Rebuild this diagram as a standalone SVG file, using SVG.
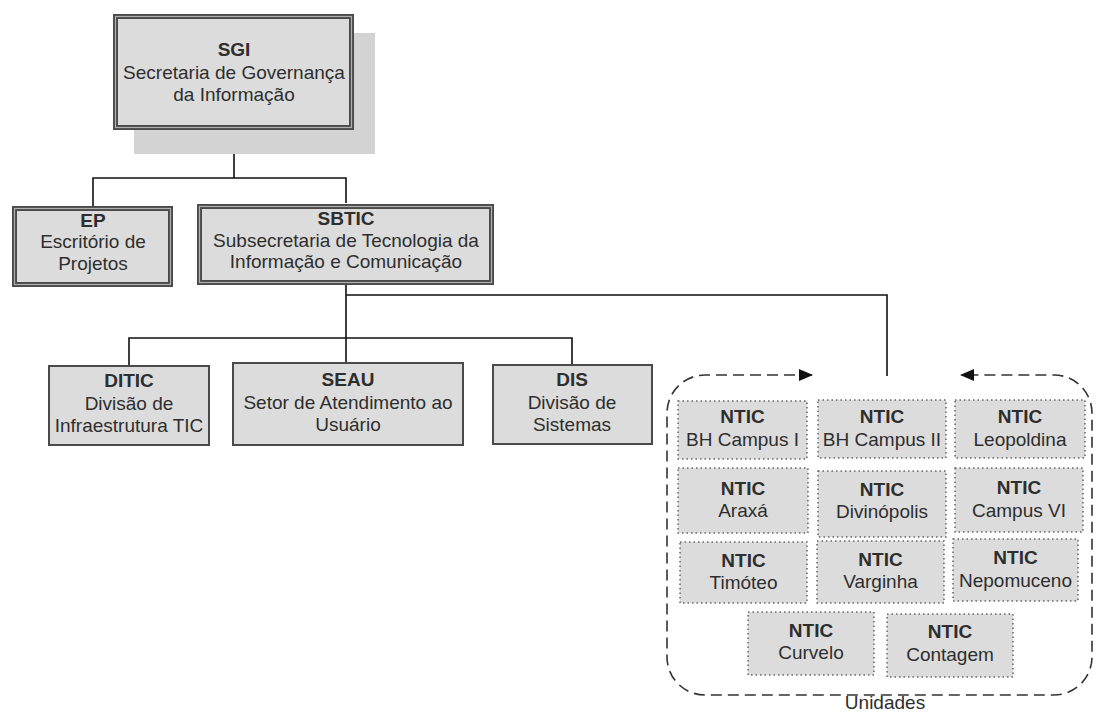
<svg xmlns="http://www.w3.org/2000/svg" width="1097" height="713" viewBox="0 0 1097 713">
<defs>
<style>
.t{font-family:"Liberation Sans",Arial,sans-serif;font-size:19px;fill:#2e2e2e;text-anchor:middle}
.b{font-weight:bold}
.dbl{fill:#dcdcdc;stroke:#4a4a4a;stroke-width:5}
.dbl2{fill:none;stroke:#b0b0b0;stroke-width:1.2}
.sgl{fill:#dcdcdc;stroke:#4a4a4a;stroke-width:2}
.dot{fill:#dcdcdc;stroke:#666;stroke-width:1.5;stroke-dasharray:1.5 3}
.con{fill:none;stroke:#111;stroke-width:1.6}
</style>
<marker id="ah" viewBox="0 0 14 12" refX="13" refY="6" markerWidth="14" markerHeight="12" markerUnits="userSpaceOnUse" orient="auto-start-reverse">
<path d="M0,0 L14,6 L0,12 Z" fill="#111"/>
</marker>
</defs>
<rect width="1097" height="713" fill="#fff"/>

<g id="connectors">
<path class="con" d="M234,130 V178 M93,206 V178 H346 V203"/>
<path class="con" d="M346,285 V362 M346,295 H887 V376"/>
<path class="con" d="M129,365 V338 H572 V364"/>
<path d="M812,375 H705 A38,38 0 0 0 667,413 V657 A38,38 0 0 0 705,695 H1054 A38,38 0 0 0 1092,657 V413 A38,38 0 0 0 1054,375 H961" fill="none" stroke="#333" stroke-width="1.6" stroke-dasharray="11 6" marker-start="url(#ah)" marker-end="url(#ah)"/>
</g>

<g id="sgi">
<rect x="134" y="33" width="241" height="121" fill="#d3d3d3"/>
<rect class="dbl" x="115.5" y="16.5" width="236" height="111"/>
<rect class="dbl2" x="115.5" y="16.5" width="236" height="111"/>
<text class="t b" x="234" y="56">SGI</text>
<text class="t" x="234" y="78.5">Secretaria de Governança</text>
<text class="t" x="234" y="100.5">da Informação</text>
</g>

<g id="ep">
<rect class="dbl" x="14.5" y="208.5" width="156" height="76"/>
<rect class="dbl2" x="14.5" y="208.5" width="156" height="76"/>
<text class="t b" x="93" y="226.5">EP</text>
<text class="t" x="93" y="248">Escritório de</text>
<text class="t" x="93" y="269.5">Projetos</text>
</g>

<g id="sbtic">
<rect class="dbl" x="199.5" y="206.5" width="292" height="76"/>
<rect class="dbl2" x="199.5" y="206.5" width="292" height="76"/>
<text class="t b" x="346" y="225">SBTIC</text>
<text class="t" x="346" y="246.5">Subsecretaria de Tecnologia da</text>
<text class="t" x="346" y="268">Informação e Comunicação</text>
</g>

<g id="ditic">
<rect class="sgl" x="49" y="366" width="160" height="79"/>
<text class="t b" x="129" y="387">DITIC</text>
<text class="t" x="129" y="410">Divisão de</text>
<text class="t" x="129" y="432">Infraestrutura TIC</text>
</g>

<g id="seau">
<rect class="sgl" x="233" y="363" width="230" height="82"/>
<text class="t b" x="348" y="386">SEAU</text>
<text class="t" x="348" y="409">Setor de Atendimento ao</text>
<text class="t" x="348" y="431">Usuário</text>
</g>

<g id="dis">
<rect class="sgl" x="493" y="365" width="159" height="79"/>
<text class="t b" x="572" y="386">DIS</text>
<text class="t" x="572" y="409">Divisão de</text>
<text class="t" x="572" y="431">Sistemas</text>
</g>

<g id="ntic-bh1">
<rect class="dot" x="678" y="401" width="129" height="58"/>
<text class="t b" x="742.5" y="423">NTIC</text>
<text class="t" x="742.5" y="446">BH Campus I</text>
</g>
<g id="ntic-bh2">
<rect class="dot" x="818" y="400" width="128" height="58"/>
<text class="t b" x="882" y="423">NTIC</text>
<text class="t" x="882" y="446">BH Campus II</text>
</g>
<g id="ntic-leopoldina">
<rect class="dot" x="955" y="400" width="130" height="58"/>
<text class="t b" x="1020" y="423">NTIC</text>
<text class="t" x="1020" y="446">Leopoldina</text>
</g>

<g id="ntic-araxa">
<rect class="dot" x="678" y="468" width="130" height="65"/>
<text class="t b" x="743" y="495">NTIC</text>
<text class="t" x="743" y="517">Araxá</text>
</g>
<g id="ntic-divinopolis">
<rect class="dot" x="818" y="471" width="128" height="66"/>
<text class="t b" x="882" y="496">NTIC</text>
<text class="t" x="882" y="518">Divinópolis</text>
</g>
<g id="ntic-campusvi">
<rect class="dot" x="955" y="468" width="128" height="64"/>
<text class="t b" x="1019" y="494">NTIC</text>
<text class="t" x="1019" y="517">Campus VI</text>
</g>

<g id="ntic-timoteo">
<rect class="dot" x="680" y="542" width="127" height="61"/>
<text class="t b" x="743.5" y="567">NTIC</text>
<text class="t" x="743.5" y="589">Timóteo</text>
</g>
<g id="ntic-varginha">
<rect class="dot" x="817" y="541" width="127" height="62"/>
<text class="t b" x="880.5" y="566">NTIC</text>
<text class="t" x="880.5" y="588">Varginha</text>
</g>
<g id="ntic-nepomuceno">
<rect class="dot" x="953" y="539" width="125" height="62"/>
<text class="t b" x="1015.5" y="564">NTIC</text>
<text class="t" x="1015.5" y="587">Nepomuceno</text>
</g>

<g id="ntic-curvelo">
<rect class="dot" x="748" y="612" width="126" height="63"/>
<text class="t b" x="811" y="637">NTIC</text>
<text class="t" x="811" y="659">Curvelo</text>
</g>
<g id="ntic-contagem">
<rect class="dot" x="887" y="614" width="126" height="63"/>
<text class="t b" x="950" y="638">NTIC</text>
<text class="t" x="950" y="661">Contagem</text>
</g>

<g id="unidades-label">
<text class="t" x="885" y="709">Unidades</text>
</g>
</svg>
